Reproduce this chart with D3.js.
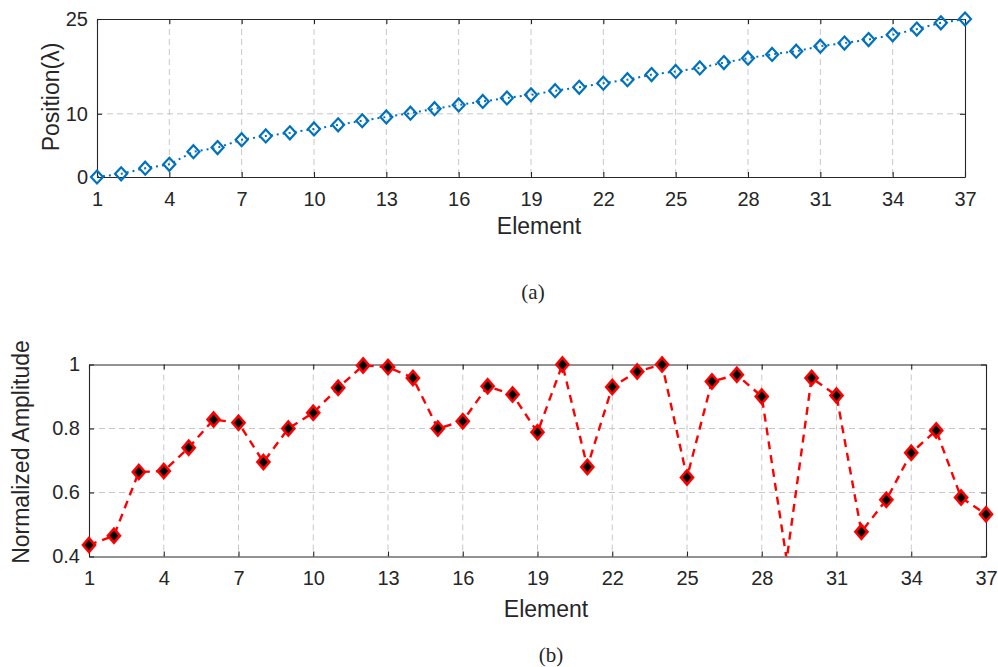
<!DOCTYPE html>
<html><head><meta charset="utf-8">
<script src="https://cdn.jsdelivr.net/npm/d3@7"></script>
<style>body{margin:0;background:#fff}text{font-family:"Liberation Sans",Arial,sans-serif;fill:#262626}</style>
</head><body>
<svg id="c" width="998" height="667"></svg>
<script>
// ---- data ----
const elements = [1,2,3,4,5,6,7,8,9,10,11,12,13,14,15,16,17,18,19,20,21,22,23,24,25,26,27,28,29,30,31,32,33,34,35,36,37];
const positions = [0,0.5,1.4,2.0,4.0,4.65,5.9,6.5,7.0,7.6,8.25,8.9,9.5,10.1,10.8,11.4,11.95,12.5,13.0,13.65,14.2,14.85,15.4,16.2,16.7,17.25,18.1,18.8,19.4,19.9,20.7,21.2,21.75,22.5,23.4,24.4,25.0];
const amplitudes = [0.436,0.465,0.664,0.667,0.740,0.828,0.818,0.695,0.800,0.849,0.927,0.997,0.992,0.958,0.800,0.823,0.932,0.906,0.788,1.0,0.680,0.930,0.978,1.0,0.647,0.947,0.968,0.900,0.39,0.958,0.903,0.477,0.577,0.724,0.794,0.584,0.532];
const xTicks = [1,4,7,10,13,16,19,22,25,28,31,34,37];
const yTicksTop = [0,10,25];
const yTicksBottom = [0.4,0.6,0.8,1];
const yTickLabelsBottom = ["0.4","0.6","0.8","1"];

const svg = d3.select("#c");
const axisColor = "#262626";

function panel(cfg){
  const g = svg.append("g");
  const x = d3.scaleLinear().domain([1,37]).range([cfg.x0,cfg.x1]);
  const y = d3.scaleLinear().domain(cfg.yDomain).range([cfg.y1,cfg.y0]);
  const clipId = "clip"+cfg.id;
  svg.append("clipPath").attr("id",clipId).append("rect")
    .attr("x",cfg.x0).attr("y",cfg.y0).attr("width",cfg.x1-cfg.x0).attr("height",cfg.y1-cfg.y0);
  // grid
  g.selectAll(".gx").data(xTicks.filter(d=>d!==1&&d!==37)).enter().append("line")
    .attr("x1",d=>x(d)).attr("x2",d=>x(d)).attr("y1",cfg.y0).attr("y2",cfg.y1)
    .attr("stroke","#c8c8c8").attr("stroke-width",1).attr("stroke-dasharray","6,4");
  g.selectAll(".gy").data(cfg.yTicks.filter(d=>d!==cfg.yDomain[0]&&d!==cfg.yDomain[1])).enter().append("line")
    .attr("y1",d=>y(d)).attr("y2",d=>y(d)).attr("x1",cfg.x0).attr("x2",cfg.x1)
    .attr("stroke","#c8c8c8").attr("stroke-width",1).attr("stroke-dasharray","6,4");
  // axes
  const axB = d3.axisBottom(x).tickValues(xTicks).tickSizeInner(-5).tickSizeOuter(0).tickPadding(cfg.xPad).tickFormat(d3.format("d"));
  const axT = d3.axisTop(x).tickValues(xTicks).tickSizeInner(-5).tickSizeOuter(0).tickFormat("");
  const axL = d3.axisLeft(y).tickValues(cfg.yTicks).tickSizeInner(-5).tickSizeOuter(0).tickPadding(9).tickFormat((d,i)=>cfg.yLabels[i]);
  const axR = d3.axisRight(y).tickValues(cfg.yTicks).tickSizeInner(-5).tickSizeOuter(0).tickFormat("");
  [[axB,`translate(0,${cfg.y1})`],[axT,`translate(0,${cfg.y0})`],[axL,`translate(${cfg.x0},0)`],[axR,`translate(${cfg.x1},0)`]].forEach(([a,t])=>{
    const ag = g.append("g").attr("transform",t).call(a);
    ag.selectAll("path,line").attr("stroke",axisColor).attr("stroke-width",1.1);
    ag.selectAll("text").attr("font-size",20).attr("fill",axisColor).style("font-family","Liberation Sans, Arial, sans-serif");
  });
  // line
  const line = d3.line().x((d,i)=>x(elements[i])).y(d=>y(d));
  g.append("path").datum(cfg.values).attr("d",line).attr("clip-path",`url(#${clipId})`)
    .attr("fill","none").attr("stroke",cfg.lineColor).attr("stroke-width",cfg.lineWidth)
    .attr("stroke-dasharray",cfg.dash).attr("stroke-linecap",cfg.cap);
  // markers
  const pts = cfg.values.map((v,i)=>({e:elements[i],v})).filter(p=>p.v>=cfg.yDomain[0]&&p.v<=cfg.yDomain[1]);
  g.selectAll(".m"+cfg.id).data(pts).enter().append("path")
    .attr("d",d=>{const cx=x(d.e),cy=y(d.v),w=cfg.mw,h=cfg.mh;return `M${cx},${cy-h}L${cx+w},${cy}L${cx},${cy+h}L${cx-w},${cy}Z`;})
    .attr("fill",cfg.mFill).attr("stroke",cfg.lineColor).attr("stroke-width",cfg.mStroke).attr("stroke-linejoin","miter");
  // labels
  svg.append("text").attr("x",cfg.xlx).attr("y",cfg.xly).attr("text-anchor","middle").attr("font-size",23).text("Element");
  svg.append("text").attr("transform",`translate(${cfg.ylx},${cfg.yly}) rotate(-90)`).attr("text-anchor","middle")
    .attr("dominant-baseline","middle").attr("font-size",23).text(cfg.ylabel);
}

panel({id:"a",x0:97,x1:965,y0:19,y1:177,yDomain:[0,25],yTicks:yTicksTop,yLabels:yTicksTop.map(String),
  values:positions,lineColor:"#0072BD",lineWidth:2,dash:"2,4",cap:"butt",mw:6,mh:6.5,mFill:"none",mStroke:2.2,
  xPad:15,xlx:539,xly:234,ylx:53,yly:97,ylabel:"Position(λ)"});

panel({id:"b",x0:89,x1:986,y0:364.5,y1:556.5,yDomain:[0.4,1],yTicks:yTicksBottom,yLabels:yTickLabelsBottom,
  values:amplitudes,lineColor:"#ff0000",lineWidth:2.4,dash:"8,6",cap:"butt",mw:6,mh:7,mFill:"#000",mStroke:2.6,
  xPad:14,xlx:546,xly:617,ylx:23,yly:452,ylabel:"Normalized Amplitude"});

svg.append("text").attr("x",533).attr("y",299).attr("text-anchor","middle").attr("font-size",21)
  .style("font-family","Liberation Serif, Times New Roman, serif").attr("fill","#000").text("(a)");
svg.append("text").attr("x",551).attr("y",662).attr("text-anchor","middle").attr("font-size",21)
  .style("font-family","Liberation Serif, Times New Roman, serif").attr("fill","#000").text("(b)");
</script>
</body></html>
